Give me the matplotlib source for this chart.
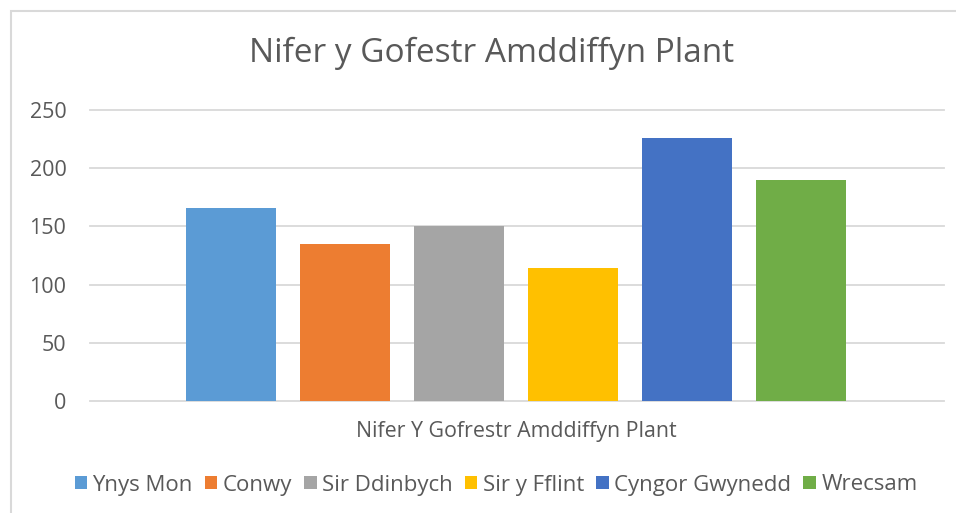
import matplotlib.pyplot as plt
from matplotlib.patches import Rectangle, Patch

plt.rcParams['font.family'] = ['Open Sans', 'DejaVu Sans']

# data
siroedd = ['Ynys Mon', 'Conwy', 'Sir Ddinbych', 'Sir y Fflint', 'Cyngor Gwynedd', 'Wrecsam']
niferoedd = [166, 135, 150, 114, 226, 190]
lliwiau = ['#5B9BD5', '#ED7D31', '#A5A5A5', '#FFC000', '#4472C4', '#70AD47']

teitl = 'Nifer y Gofestr Amddiffyn Plant'
label_x = 'Nifer Y Gofrestr Amddiffyn Plant'
llwyd = '#595959'

fig = plt.figure(figsize=(9.56, 5.13), dpi=100)
fig.patch.set_facecolor('white')

# border of the chart area (left and top only visible)
fig.add_artist(Rectangle((11 / 956, -0.05), 1.1, 1 - 11 / 513 + 0.05,
                         transform=fig.transFigure, fill=False,
                         edgecolor='#D9D9D9', linewidth=1.5))

ax = fig.add_axes([90 / 956, 1 - 401 / 513, 854 / 956, 291 / 513])
x = list(range(len(siroedd)))
ax.bar(x, niferoedd, width=0.79, color=lliwiau, zorder=3)

ax.set_xlim(-1.235, 6.255)
ax.set_ylim(0, 250)
ax.set_yticks([0, 50, 100, 150, 200, 250])
ax.set_xticks([])
for s in ax.spines.values():
    s.set_visible(False)
ax.yaxis.grid(True, color='#D9D9D9', linewidth=1.3, zorder=0)
for gl in ax.get_ygridlines():
    gl.set_clip_on(False)
ax.tick_params(axis='y', length=0, pad=17, labelsize=15.5, labelcolor=llwyd)

fig.text(492 / 956, 1 - 53 / 513, teitl, ha='center', va='center',
         fontsize=24, color=llwyd)
fig.text(516 / 956, 1 - 432 / 513, label_x, ha='center', va='center',
         fontsize=15.4, color=llwyd)

handles = [Patch(facecolor=c, label=s) for s, c in zip(siroedd, lliwiau)]
fig.legend(handles=handles, loc='center', bbox_to_anchor=(496 / 956, 1 - 485 / 513),
           ncol=6, frameon=False, fontsize=16, handlelength=0.55, handleheight=0.55,
           handletextpad=0.25, columnspacing=0.55, labelcolor=llwyd)

fig.savefig('out.png', dpi=100)
